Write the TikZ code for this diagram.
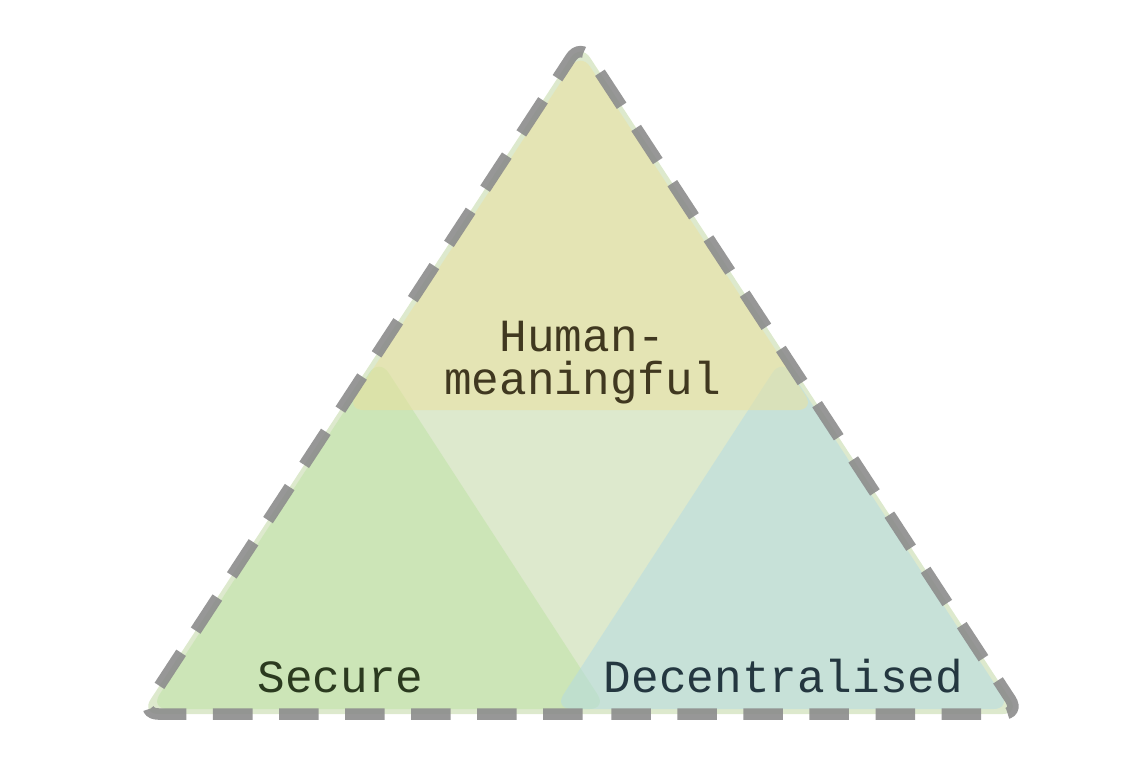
\documentclass[tikz,border=0pt]{standalone}
\usepackage{fontspec}
\setmonofont{Liberation Mono}
\definecolor{hmfill}{RGB}{235,225,157}
\definecolor{secfill}{RGB}{189,227,163}
\definecolor{decfill}{RGB}{179,219,227}
\definecolor{midfill}{RGB}{221,233,205}
\definecolor{hmtext}{RGB}{64,56,32}
\definecolor{sectext}{RGB}{43,58,31}
\definecolor{dectext}{RGB}{36,55,64}
\definecolor{rimgray}{RGB}{140,140,140}

\begin{document}
\begin{tikzpicture}[x=0.01cm, y=-0.01cm,
  tri/.style={rounded corners=5pt, fill opacity=0.5},
  rim/.style={draw=rimgray, draw opacity=0.9, line width=0.115cm,
    dash pattern=on 0.395cm off 0.265cm, dash phase=0.5275cm, rounded corners=5pt},
  lbl/.style={font=\ttfamily\fontsize{13.1}{12}\selectfont, inner sep=0pt, align=center, anchor=base}]
\useasboundingbox (0,0) rectangle (1125,756);
\coordinate (top) at (580.5,43);
\coordinate (bl) at (141,714);
\coordinate (br) at (1020,714);
\coordinate (mid) at (580.5,714);
\fill[midfill, rounded corners=5pt] (top) -- (bl) -- (br) -- cycle;
% the three corners
\fill[tri, secfill] (150,709) -- (379,358) -- (607,709) -- cycle;
\fill[tri, decfill] (1011,709) -- (782,358) -- (554,709) -- cycle;
\fill[tri, hmfill] (580.5,52) -- (346,410) -- (815,410) -- cycle;
\draw[rim] (mid) -- (br) -- (top) -- (bl) -- cycle;
\node[lbl, text=hmtext] (hm) at (582.5,394) {Human-\\meaningful};
\node[lbl, text=sectext] (sec) at (340.5,692) {Secure};
\node[lbl, text=dectext] (dec) at (783.5,692) {Decentralised};
\end{tikzpicture}
\end{document}
